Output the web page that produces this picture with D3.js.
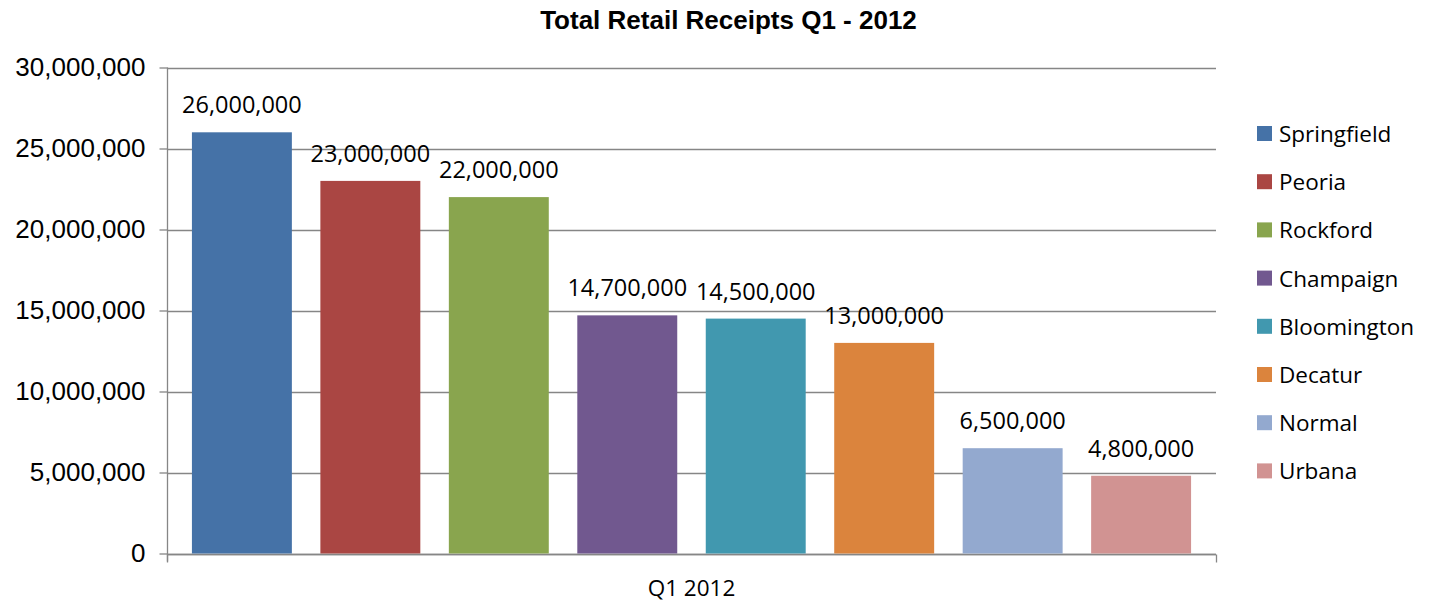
<!DOCTYPE html>
<html>
<head>
<meta charset="utf-8">
<script src="https://cdn.jsdelivr.net/npm/d3@7"></script>
<style>
  html, body { margin: 0; padding: 0; background: #fff; }
  svg { display: block; }
</style>
</head>
<body>
<svg id="chart" width="1434" height="603"></svg>
<script>
// Retail receipts by city, first quarter 2012
const category = "Q1 2012";
const cities = ["Springfield", "Peoria", "Rockford", "Champaign", "Bloomington", "Decatur", "Normal", "Urbana"];
const receipts = [26000000, 23000000, 22000000, 14700000, 14500000, 13000000, 6500000, 4800000];
const colors = ["#4572A7", "#AA4643", "#89A54E", "#71588F", "#4198AF", "#DB843D", "#93A9CF", "#D19392"];
const yTicks = [0, 5000000, 10000000, 15000000, 20000000, 25000000, 30000000];
const titleText = "Total Retail Receipts Q1 - 2012";

const svg = d3.select("#chart");
const plot = { left: 167, right: 1216, top: 67.5, bottom: 553.5 };
const axisColor = "#868686";
const sansLabel = "'Open Sans', 'Noto Sans', sans-serif";
const sansAxis = "'Liberation Sans', Arial, sans-serif";

const y = d3.scaleLinear().domain([0, 30000000]).range([plot.bottom, plot.top]);
const x0 = d3.scaleBand().domain([category]).range([plot.left, plot.right]);
const x1 = d3.scaleBand().domain(cities).range([0, x0.bandwidth()])
  .paddingInner(0.222).paddingOuter(0.194);
const color = d3.scaleOrdinal().domain(cities).range(colors);
const fmt = d3.format(",");

// Title
svg.append("text")
  .attr("x", 728.5).attr("y", 29)
  .attr("text-anchor", "middle")
  .style("font-family", sansAxis).style("font-weight", "bold").style("font-size", "26px")
  .text(titleText);

// Horizontal gridlines
svg.append("g").selectAll("line").data(yTicks).join("line")
  .attr("x1", plot.left).attr("x2", plot.right)
  .attr("y1", d => Math.round(y(d)) + 0.5).attr("y2", d => Math.round(y(d)) + 0.5)
  .attr("stroke", axisColor).attr("stroke-width", 1.3);

// Value axis
const yAxis = svg.append("g")
  .attr("transform", `translate(${plot.left + 0.5},0)`)
  .call(d3.axisLeft(y).tickValues(yTicks).tickFormat(fmt).tickSize(8).tickPadding(14));
yAxis.select(".domain").attr("stroke", axisColor).attr("stroke-width", 1.3)
  .attr("d", `M0,${plot.top}V${plot.bottom + 8}`);
yAxis.selectAll(".tick line").attr("stroke", axisColor).attr("stroke-width", 1.3);
yAxis.selectAll(".tick text")
  .style("font-family", sansAxis).style("font-size", "26px").attr("fill", "#000");

// Category axis with end ticks
const xAxis = svg.append("g")
  .attr("transform", `translate(0,${Math.round(plot.bottom) + 0.5})`);
xAxis.append("line")
  .attr("x1", plot.left).attr("x2", plot.right)
  .attr("stroke", axisColor).attr("stroke-width", 1.3);
xAxis.selectAll("line.edge").data([plot.left, plot.right]).join("line")
  .attr("class", "edge")
  .attr("x1", d => d + 0.5).attr("x2", d => d + 0.5).attr("y1", 0).attr("y2", 8)
  .attr("stroke", axisColor).attr("stroke-width", 1.3);
xAxis.append("text")
  .attr("x", x0(category) + x0.bandwidth() / 2).attr("y", 41)
  .attr("text-anchor", "middle")
  .style("font-family", sansLabel).style("font-size", "22.5px")
  .text(category);

// Bars
const data = cities.map((c, i) => ({ city: c, value: receipts[i] }));
const bars = svg.append("g").attr("transform", `translate(${x0(category)},0)`);
bars.selectAll("rect").data(data).join("rect")
  .attr("x", d => x1(d.city))
  .attr("y", d => y(d.value))
  .attr("width", x1.bandwidth())
  .attr("height", d => y(0) - y(d.value))
  .attr("fill", d => color(d.city));

// Value labels
bars.selectAll("text").data(data).join("text")
  .attr("x", d => x1(d.city) + x1.bandwidth() / 2)
  .attr("y", d => y(d.value) - 19)
  .attr("text-anchor", "middle")
  .style("font-family", sansLabel).style("font-size", "23.5px")
  .text(d => fmt(d.value));

// Legend
const legend = svg.append("g").attr("transform", "translate(1257,0)");
const rows = legend.selectAll("g").data(cities).join("g")
  .attr("transform", (d, i) => `translate(0,${142 + i * 48.2})`);
rows.append("rect")
  .attr("x", 0).attr("y", -16).attr("width", 15).attr("height", 15)
  .attr("fill", d => color(d));
rows.append("text")
  .attr("x", 22).attr("y", 0)
  .style("font-family", sansLabel).style("font-size", "22.5px")
  .text(d => d);
</script>
</body>
</html>
